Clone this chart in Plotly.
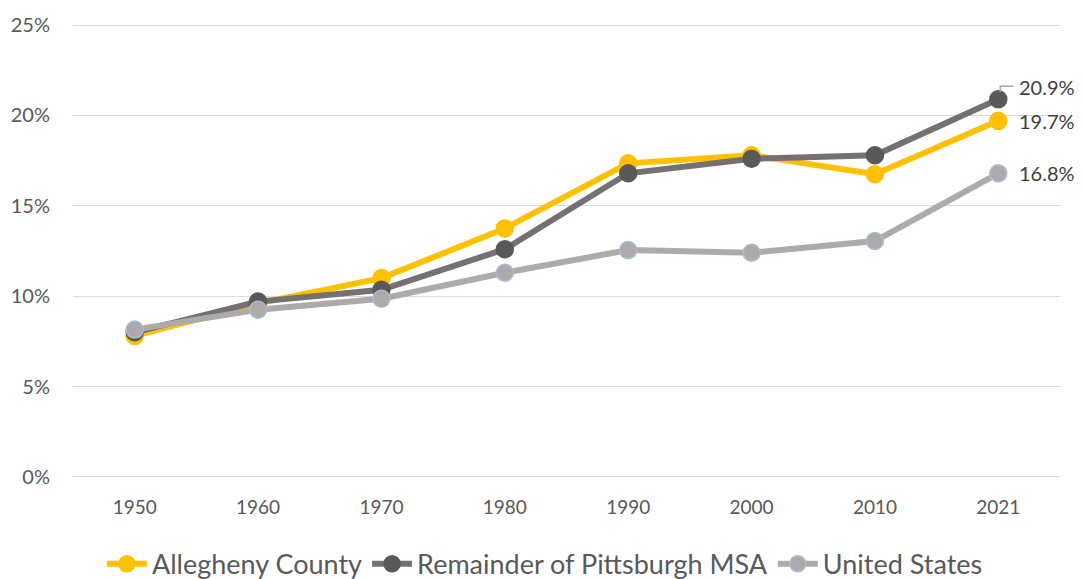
import plotly.graph_objects as go

years = ["1950", "1960", "1970", "1980", "1990", "2000", "2010", "2021"]
allegheny = [7.8, 9.6, 11.0, 13.75, 17.35, 17.8, 16.75, 19.7]
remainder = [8.0, 9.7, 10.35, 12.6, 16.8, 17.6, 17.8, 20.9]
united_states = [8.15, 9.25, 9.86, 11.3, 12.55, 12.4, 13.05, 16.8]
y_ticks = [0, 5, 10, 15, 20, 25]
y_tick_labels = ["0%", "5%", "10%", "15%", "20%", "25%"]

FONT = "Lato, 'Open Sans', sans-serif"

fig = go.Figure()
series = [
    ("Allegheny County", allegheny, "#FFC000", "#FFC000", "#FFC000"),
    ("Remainder of Pittsburgh MSA", remainder, "#767171", "#595959", "#595959"),
    ("United States", united_states, "#AEAAAA", "#AEAAAA", "#A9BCD6"),
]
for name, vals, lc, mc, mlc in series:
    fig.add_trace(go.Scatter(
        x=years, y=[v / 100 for v in vals], name=name, mode="lines+markers",
        line=dict(color=lc, width=6),
        marker=dict(color=mc, size=17, line=dict(color=mlc, width=1.5)),
        hoverinfo="skip", cliponaxis=False,
    ))

# end labels
label_offsets = {"Allegheny County": 0, "Remainder of Pittsburgh MSA": 12, "United States": 0}
for name, vals, lc, mc, mlc in series:
    fig.add_annotation(
        x=len(years) - 1, y=vals[-1] / 100, text=f"{vals[-1]:.1f}%", showarrow=False,
        xanchor="left", xshift=19, yshift=label_offsets[name],
        font=dict(family=FONT, size=20, color="#404040"),
    )

# leader line for the top label
fig.add_shape(
    type="path", xref="x", yref="y", xsizemode="pixel", ysizemode="pixel",
    xanchor=len(years) - 1, yanchor=remainder[-1] / 100,
    path="M 2,7 L 2,13 L 15,13", line=dict(color="#A6A6A6", width=1.5),
)

fig.update_layout(
    width=1076, height=571,
    margin=dict(l=65, r=24, t=16, b=101, autoexpand=False),
    paper_bgcolor="white", plot_bgcolor="white",
    font=dict(family=FONT, color="#595959"),
    showlegend=True,
    legend=dict(orientation="h", xref="container", x=0.499, xanchor="center",
                yref="container", y=0.026, yanchor="middle",
                font=dict(family=FONT, size=27, color="#595959"),
                itemwidth=40, tracegroupgap=0),
    xaxis=dict(type="category", categoryorder="array", categoryarray=years,
               range=[-0.5, len(years) - 0.5], showgrid=False, zeroline=False, showline=False,
               ticks="", ticklabelstandoff=16,
               tickfont=dict(family=FONT, size=19, color="#595959"), automargin=False),
    yaxis=dict(range=[-0.0006, 0.2506], tickvals=[t / 100 for t in y_ticks], ticktext=y_tick_labels,
               showgrid=True, gridcolor="#D9D9D9", gridwidth=1.3, zeroline=False,
               showline=False, ticks="", ticklabelstandoff=22, automargin=False,
               tickfont=dict(family=FONT, size=20, color="#595959")),
)

fig.write_html("out.html")
